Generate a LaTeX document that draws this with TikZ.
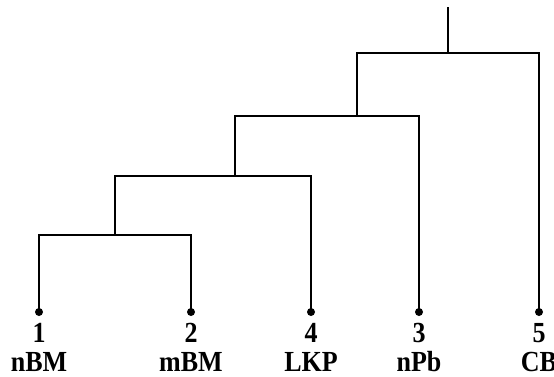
\documentclass[tikz,border=0pt]{standalone}
\usepackage{fontspec}
\setmainfont{Liberation Serif}
\tikzset{
  branch/.style={line width=1.6pt, line cap=rect, line join=miter},
  leaf/.style={circle, fill=black, inner sep=0pt, minimum size=8pt},
  lbl/.style={anchor=base, inner sep=0pt, font=\fontsize{26}{26}\selectfont\bfseries}
}
\begin{document}
\begin{tikzpicture}[x=1pt, y=-1pt]
\useasboundingbox (0,0) rectangle (554,376);
% leaves
\node[leaf] (l1) at (39,312) {};
\node[leaf] (l2) at (191,312) {};
\node[leaf] (l4) at (311,312) {};
\node[leaf] (l3) at (419,312) {};
\node[leaf] (l5) at (539,312) {};
% junctions of the tree
\coordinate (j12) at (115,235);
\coordinate (j124) at (235,176);
\coordinate (j1243) at (357,116);
\coordinate (root) at (448,53);
\coordinate (top) at (448,8);
% branches
\draw[branch] (l1.center) |- (j12) -| (l2.center);
\draw[branch] (j12) |- (j124) -| (l4.center);
\draw[branch] (j124) |- (j1243) -| (l3.center);
\draw[branch] (j1243) |- (root) -| (l5.center);
\draw[branch] (root) -- (top);
% labels
\foreach \n/\x/\num/\name in {a/39/1/nBM, b/191/2/mBM, c/311/4/LKP, d/419/3/nPb, e/539/5/CB}{
  \node[lbl] (num\n) at (\x,342) {\scalebox{1}[1.12]{\num}};
  \node[lbl] (name\n) at (\x,371) {\scalebox{1}[1.12]{\name}};
}
\end{tikzpicture}
\end{document}
